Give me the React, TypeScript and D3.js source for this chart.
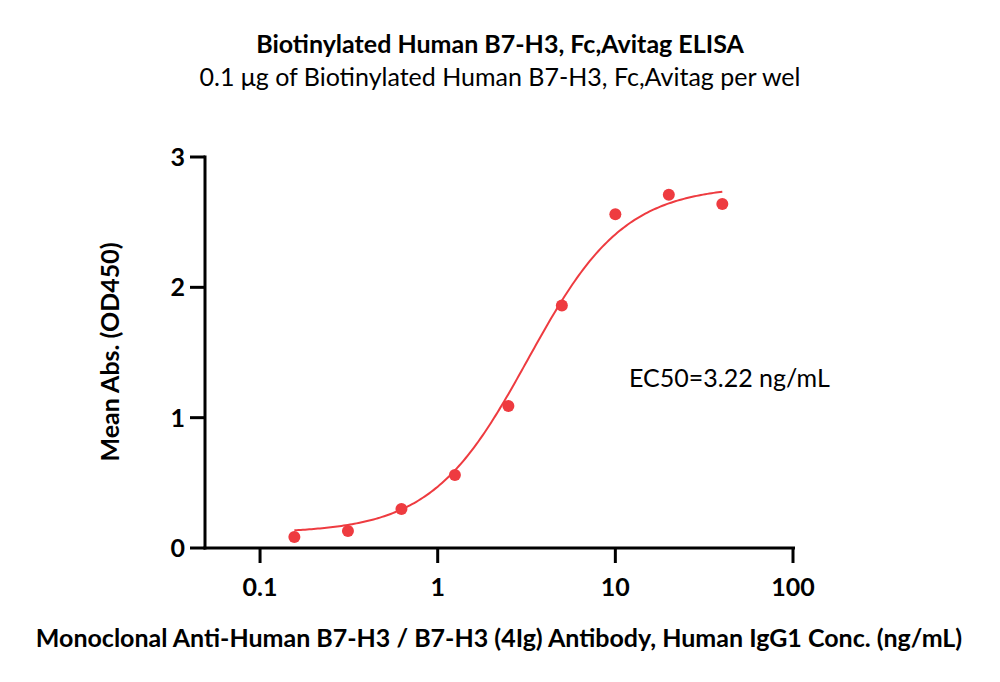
import React from "react";
import * as d3 from "d3";

const concentrations = [0.156, 0.3125, 0.625, 1.25, 2.5, 5, 10, 20, 40];
const absorbance = [0.085, 0.13, 0.30, 0.56, 1.09, 1.86, 2.56, 2.71, 2.64];
const xTicks = [0.1, 1, 10, 100];
const yTicks = [0, 1, 2, 3];
// 4PL fit parameters
const fitBottom = 0.115;
const fitTop = 2.78;
const fitEC50 = 3.22;
const fitHill = 1.6;

const W = 1000, H = 682;
const FONT = "Lato, 'Open Sans', sans-serif";
const FS = 25;

export default function App() {
  const x = d3.scaleLog().domain([0.1 / Math.pow(10, 55 / 177.5), 100]).range([205, 793]);
  const y = d3.scaleLinear().domain([0, 3]).range([548, 157]);
  const red = "#ee3b40";
  const f = (c: number) => fitBottom + (fitTop - fitBottom) / (1 + Math.pow(fitEC50 / c, fitHill));
  const curvePts = d3.range(0, 201).map(i => {
    const lc = Math.log10(concentrations[0]) + (Math.log10(concentrations[concentrations.length - 1]) - Math.log10(concentrations[0])) * i / 200;
    const c = Math.pow(10, lc);
    return [x(c), y(f(c))] as [number, number];
  });
  const line = d3.line();
  return (
    <svg width={W} height={H} style={{ position: "absolute", left: 0, top: 0, background: "#fff" }}>
      <text x={500} y={53} textAnchor="middle" fontFamily={FONT} fontWeight="bold" fontSize={FS}>Biotinylated Human B7-H3, Fc,Avitag ELISA</text>
      <text x={500} y={86} textAnchor="middle" fontFamily={FONT} fontSize={FS}>0.1 μg of Biotinylated Human B7-H3, Fc,Avitag per wel</text>
      <path d={line(curvePts) || ""} fill="none" stroke={red} strokeWidth={2} />
      {concentrations.map((c, i) => (
        <circle key={i} cx={x(c)} cy={y(absorbance[i])} r={6} fill={red} />
      ))}
      <line x1={205} x2={205} y1={155.5} y2={549.5} stroke="#000" strokeWidth={3} />
      <line x1={203.5} x2={795} y1={548} y2={548} stroke="#000" strokeWidth={3} />
      {yTicks.map(t => (
        <g key={t}>
          <line x1={190} x2={205} y1={y(t)} y2={y(t)} stroke="#000" strokeWidth={3} />
          <text x={185} y={y(t) + 9} textAnchor="end" fontFamily={FONT} fontWeight="bold" fontSize={FS}>{t}</text>
        </g>
      ))}
      {xTicks.map(t => (
        <g key={t}>
          <line x1={x(t)} x2={x(t)} y1={548} y2={563} stroke="#000" strokeWidth={3} />
          <text x={x(t)} y={596} textAnchor="middle" fontFamily={FONT} fontWeight="bold" fontSize={FS}>{String(t)}</text>
        </g>
      ))}
      <text x={499} y={647} textAnchor="middle" fontFamily={FONT} fontWeight="bold" fontSize={FS}>Monoclonal Anti-Human B7-H3 / B7-H3 (4Ig) Antibody, Human IgG1 Conc. (ng/mL)</text>
      <text transform={`translate(119,352) rotate(-90)`} textAnchor="middle" fontFamily={FONT} fontWeight="bold" fontSize={FS}>Mean Abs. (OD450)</text>
      <text x={629} y={387} fontFamily={FONT} fontSize={FS}>EC50=3.22 ng/mL</text>
    </svg>
  );
}
